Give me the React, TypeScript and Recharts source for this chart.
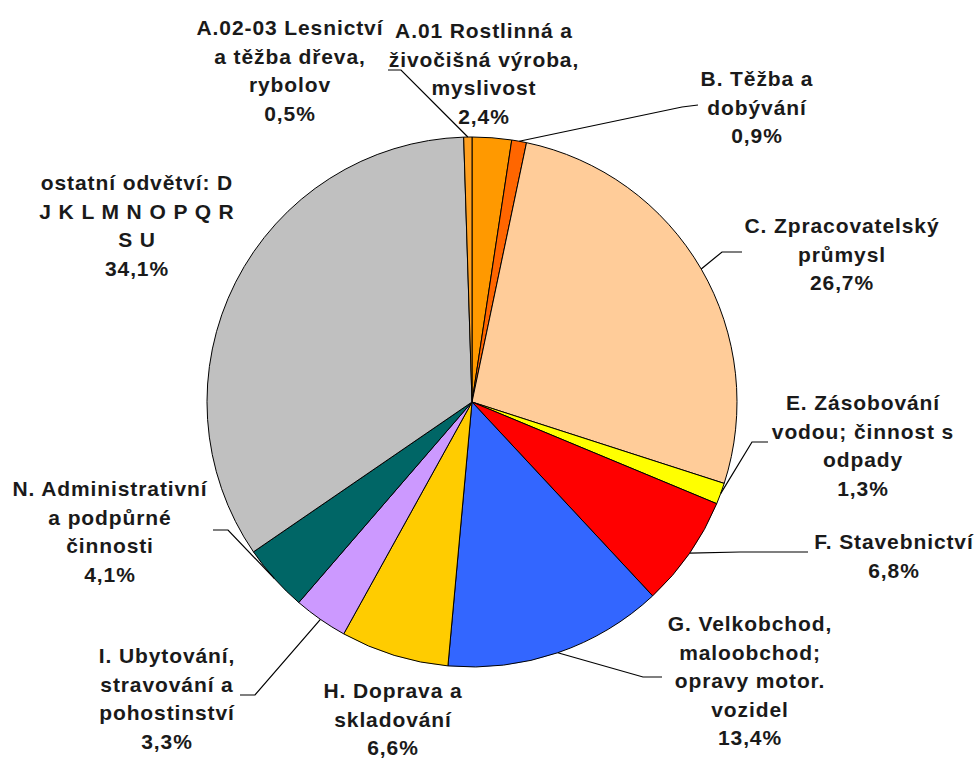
import { PieChart, Pie, Cell } from "recharts";

// slices clockwise from 12 o'clock
const sectors = [
  "A.01 Rostlinná a živočišná výroba, myslivost",
  "B. Těžba a dobývání",
  "C. Zpracovatelský průmysl",
  "E. Zásobování vodou; činnost s odpady",
  "F. Stavebnictví",
  "G. Velkobchod, maloobchod; opravy motor. vozidel",
  "H. Doprava a skladování",
  "I. Ubytování, stravování a pohostinství",
  "N. Administrativní a podpůrné činnosti",
  "ostatní odvětví: D J K L M N O P Q R S U",
  "A.02-03 Lesnictví a těžba dřeva, rybolov",
];
const shares = [2.4, 0.9, 26.7, 1.3, 6.8, 13.4, 6.6, 3.3, 4.1, 34.1, 0.5];
const shareLabels = ["2,4%", "0,9%", "26,7%", "1,3%", "6,8%", "13,4%", "6,6%", "3,3%", "4,1%", "34,1%", "0,5%"];
const labelLines = [
  ["A.01 Rostlinná a", "živočišná výroba,", "myslivost"],
  ["B. Těžba a", "dobývání"],
  ["C. Zpracovatelský", "průmysl"],
  ["E. Zásobování", "vodou; činnost s", "odpady"],
  ["F. Stavebnictví"],
  ["G. Velkobchod,", "maloobchod;", "opravy motor.", "vozidel"],
  ["H. Doprava a", "skladování"],
  ["I. Ubytování,", "stravování a", "pohostinství"],
  ["N. Administrativní", "a podpůrné", "činnosti"],
  ["ostatní odvětví: D", "J K L M N O P Q R", "S U"],
  ["A.02-03 Lesnictví", "a těžba dřeva,", "rybolov"],
];
const colors = ["#FF9900", "#FF6600", "#FFCC99", "#FFFF00", "#FF0000", "#3366FF", "#FFCC00", "#CC99FF", "#006666", "#C0C0C0", "#FFA020"];

const data = sectors.map((name, i) => ({ name, value: shares[i] }));

// label placement: text centre x, first-line centre y, leader elbow + end (null = no leader)
const labelPos: { x: number; y: number; leader: number[][] | null }[] = [
  { x: 484, y: 30, leader: null },
  { x: 757, y: 78, leader: [[682, 107], [698, 105]] },
  { x: 842, y: 225, leader: [[722, 252], [742, 252]] },
  { x: 863, y: 402, leader: [[752, 442], [768, 442]] },
  { x: 894, y: 541, leader: [[740, 552], [808, 552]] },
  { x: 750, y: 623, leader: [[643, 677], [662, 677]] },
  { x: 393, y: 690, leader: null },
  { x: 167, y: 655, leader: [[255, 695], [240, 695]] },
  { x: 110, y: 488, leader: [[228, 530], [213, 530]] },
  { x: 137, y: 182, leader: null },
  { x: 290, y: 27, leader: [[401, 70], [388, 70]] },
];

const RAD = Math.PI / 180;
const LINE_H = 28.5;

const renderLabel = (p: any) => {
  const i = p.index;
  const pos = labelPos[i];
  const lines = [...labelLines[i], shareLabels[i]];
  const sx = p.cx + p.outerRadius * Math.cos(-p.midAngle * RAD);
  const sy = p.cy + p.outerRadius * Math.sin(-p.midAngle * RAD);
  return (
    <g key={`lbl-${i}`}>
      {pos.leader && (
        <polyline
          points={[[sx, sy], ...pos.leader].map((pt) => pt.join(",")).join(" ")}
          fill="none"
          stroke="#000"
          strokeWidth={1.2}
        />
      )}
      <text
        x={pos.x}
        y={pos.y}
        textAnchor="middle"
        dominantBaseline="central"
        fill="#1a1a1a"
        fontFamily="'Liberation Sans', Arial, sans-serif"
        fontSize={21}
        fontWeight="bold"
        letterSpacing={0.9}
      >
        {lines.map((t, k) => (
          <tspan key={k} x={pos.x} y={pos.y + k * LINE_H}>
            {t}
          </tspan>
        ))}
      </text>
    </g>
  );
};

export default function App() {
  return (
    <div style={{ position: "absolute", left: 0, top: 0, background: "#fff" }}>
      <PieChart width={980} height={759} margin={{ top: 0, right: 0, bottom: 0, left: 0 }}>
        <Pie
          data={data}
          dataKey="value"
          nameKey="name"
          cx={472}
          cy={402}
          outerRadius={265}
          startAngle={90}
          endAngle={-270}
          stroke="#000"
          strokeWidth={1}
          label={renderLabel}
          labelLine={false}
          isAnimationActive={false}
        >
          {data.map((d, i) => (
            <Cell key={d.name} fill={colors[i]} />
          ))}
        </Pie>
      </PieChart>
    </div>
  );
}
